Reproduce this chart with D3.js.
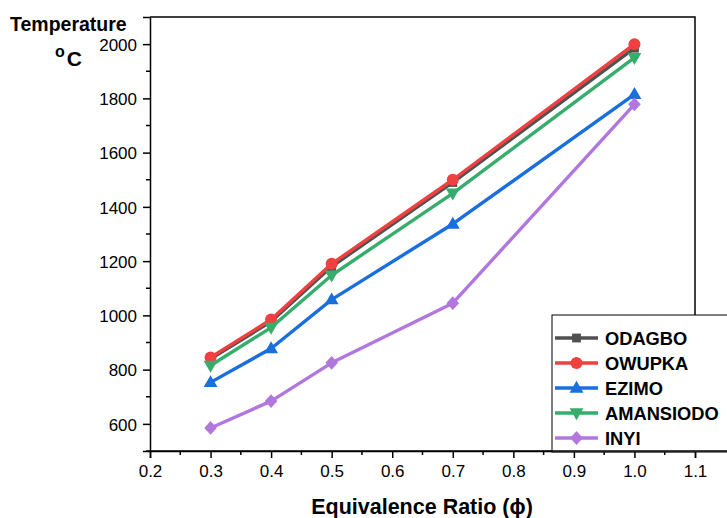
<!DOCTYPE html>
<html><head><meta charset="utf-8">
<script src="https://cdn.jsdelivr.net/npm/d3@7"></script>
<style>body{margin:0;background:#fff}svg{display:block;font-family:"Liberation Sans",Arial,sans-serif}</style>
</head><body><svg id="c" width="727" height="518"></svg>
<script>
const xValues = [0.3, 0.4, 0.5, 0.7, 1.0];
const seriesNames = ["ODAGBO", "OWUPKA", "EZIMO", "AMANSIODO", "INYI"];
const odagbo = [840, 977, 1180, 1490, 1985];
const owupka = [845, 985, 1190, 1500, 2000];
const ezimo = [753, 878, 1058, 1337, 1815];
const amansiodo = [815, 955, 1148, 1450, 1950];
const inyi = [585, 684, 825, 1045, 1778];
const xTicks = [0.2, 0.3, 0.4, 0.5, 0.6, 0.7, 0.8, 0.9, 1.0, 1.1];
const yTicks = [600, 800, 1000, 1200, 1400, 1600, 1800, 2000];
const xMinorTicks = [0.25, 0.35, 0.45, 0.55, 0.65, 0.75, 0.85, 0.95, 1.05];
const yMinorTicks = [500, 700, 900, 1100, 1300, 1500, 1700, 1900];

const colors = ["#515151", "#F14040", "#1A6FDF", "#37AD6B", "#B177DE"];
const allValues = [odagbo, owupka, ezimo, amansiodo, inyi];

const svg = d3.select("#c");
const L = 150, R = 695, T = 17, B = 451;
const x = d3.scaleLinear().domain([0.2, 1.1]).range([L, R]);
const y = d3.scaleLinear().domain([500, 2100]).range([B, T]);

svg.append("path").attr("d", `M${L},${T}H${R}V${B}`).attr("fill", "none").attr("stroke", "#000").attr("stroke-width", 1.5);

svg.append("g").selectAll("line").data(xMinorTicks).join("line")
  .attr("x1", d => x(d)).attr("x2", d => x(d)).attr("y1", B).attr("y2", B + 4)
  .attr("stroke", "#000").attr("stroke-width", 1.5);
svg.append("g").selectAll("line").data(yMinorTicks).join("line")
  .attr("x1", L - 4).attr("x2", L).attr("y1", d => y(d)).attr("y2", d => y(d))
  .attr("stroke", "#000").attr("stroke-width", 1.5);

const xAxis = svg.append("g").attr("transform", `translate(0,${B})`)
  .call(d3.axisBottom(x).tickValues(xTicks).tickFormat(d3.format(".1f")).tickSize(7).tickPadding(7));
const yAxis = svg.append("g").attr("transform", `translate(${L},0)`)
  .call(d3.axisLeft(y).tickValues(yTicks).tickFormat(d3.format("d")).tickSize(7).tickPadding(6));
[xAxis, yAxis].forEach(a => {
  a.attr("font-size", 17).attr("font-family", "Liberation Sans, Arial, sans-serif");
  a.select(".domain").attr("stroke-width", 1.5);
  a.selectAll(".tick line").attr("stroke-width", 1.5);
  a.selectAll("text").attr("fill", "#000");
});
yAxis.selectAll("text").attr("dy", "0.36em");

const line = d3.line().x((d, i) => x(xValues[i])).y(d => y(d));
function shape(i, r) {
  const p = d3.path();
  if (i === 0) { p.rect(-r*0.85, -r*0.85, r*1.7, r*1.7); }
  else if (i === 1) { p.arc(0, 0, r, 0, 2*Math.PI); }
  else if (i === 2) { p.moveTo(0, -r*1.15); p.lineTo(r*1.1, r*0.75); p.lineTo(-r*1.1, r*0.75); p.closePath(); }
  else if (i === 3) { p.moveTo(0, r*1.15); p.lineTo(r*1.1, -r*0.75); p.lineTo(-r*1.1, -r*0.75); p.closePath(); }
  else { p.moveTo(0, -r*1.15); p.lineTo(r*1.05, 0); p.lineTo(0, r*1.15); p.lineTo(-r*1.05, 0); p.closePath(); }
  return p.toString();
}
const radii = [5.2, 6, 6.3, 6.3, 6];

allValues.forEach((vals, i) => {
  const g = svg.append("g");
  g.append("path").datum(vals).attr("d", line).attr("fill", "none").attr("stroke", colors[i]).attr("stroke-width", 3.4).attr("stroke-linejoin", "round");
  g.selectAll("path.m").data(vals).join("path").attr("class", "m")
    .attr("transform", (d, j) => `translate(${x(xValues[j])},${y(d)})`)
    .attr("d", shape(i, radii[i])).attr("fill", colors[i]);
});

const lg = svg.append("g");
lg.append("rect").attr("x", 552).attr("y", 315).attr("width", 180).attr("height", 137).attr("fill", "#fff").attr("stroke", "#000").attr("stroke-width", 1);
seriesNames.forEach((n, i) => {
  const yy = 338 + i * 25;
  lg.append("line").attr("x1", 555).attr("x2", 598).attr("y1", yy).attr("y2", yy).attr("stroke", colors[i]).attr("stroke-width", 3.4);
  lg.append("path").attr("transform", `translate(576.5,${yy})`).attr("d", shape(i, radii[i])).attr("fill", colors[i]);
  lg.append("text").attr("x", 605).attr("y", yy).attr("dy", "0.36em").attr("font-size", 18.3).attr("font-weight", "bold").text(n);
});
svg.append("line").attr("x1", L).attr("x2", 727).attr("y1", B).attr("y2", B).attr("stroke", "#000").attr("stroke-width", 1.5);

svg.append("text").attr("x", 422).attr("y", 514).attr("text-anchor", "middle").attr("font-size", 21.5).attr("font-weight", "bold").text("Equivalence Ratio (ϕ)");
svg.append("text").attr("x", 10).attr("y", 31).attr("font-size", 19.5).attr("font-weight", "bold").text("Temperature");
const oc = svg.append("text").attr("x", 55).attr("y", 66).attr("font-weight", "bold");
oc.append("tspan").attr("font-size", 16).attr("dy", "-9").text("o");
oc.append("tspan").attr("font-size", 21).attr("dy", "9").attr("dx", "2").text("C");
</script></body></html>
